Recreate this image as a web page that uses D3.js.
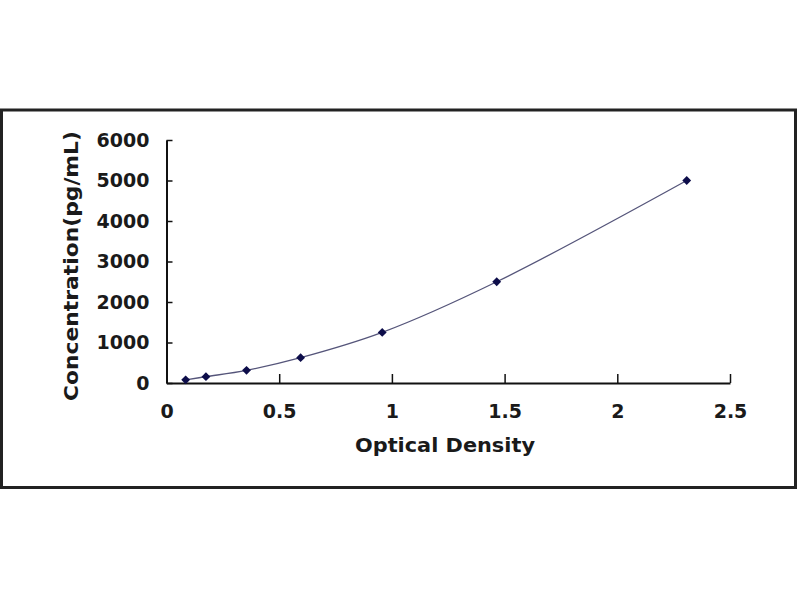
<!DOCTYPE html>
<html>
<head>
<meta charset="utf-8">
<script src="https://cdn.jsdelivr.net/npm/d3@7"></script>
<style>
  body { margin: 0; background: #fff; }
  text { font-family: "DejaVu Sans", Arial, sans-serif; font-weight: bold; fill: #1a1a1a; }
</style>
</head>
<body>
<div id="chart"></div>
<script>
// standard curve readings
var opticalDensity = [0.085, 0.175, 0.355, 0.595, 0.957, 1.465, 2.308];
var concentration = [78, 156, 312, 625, 1250, 2500, 5000];
var xTicks = [0, 0.5, 1, 1.5, 2, 2.5];
var yTicks = [0, 1000, 2000, 3000, 4000, 5000, 6000];

var points = opticalDensity.map(function(d, i) { return { od: d, conc: concentration[i] }; });

var svg = d3.select("#chart").append("svg")
  .attr("width", 800)
  .attr("height", 600);

// outer frame
svg.append("rect")
  .attr("x", 1.5).attr("y", 110)
  .attr("width", 794).attr("height", 377.5)
  .attr("fill", "none")
  .attr("stroke", "#222")
  .attr("stroke-width", 3);

var x = d3.scaleLinear().domain([0, 2.5]).range([166.5, 730]);
var y = d3.scaleLinear().domain([0, 6000]).range([383, 140]);

// x axis, ticks pointing up into the plot
var xAxis = svg.append("g")
  .attr("transform", "translate(0," + y(0) + ")")
  .call(d3.axisBottom(x).tickValues(xTicks).tickSizeInner(-9).tickSizeOuter(0).tickPadding(22)
    .tickFormat(function(d) { return d; }));
xAxis.select(".domain").attr("stroke", "#111").attr("stroke-width", 2);
xAxis.selectAll(".tick line").attr("stroke", "#111").attr("stroke-width", 1.5);
xAxis.selectAll("text").attr("font-size", 19).attr("fill", "#1a1a1a");

// y axis, ticks pointing right
var yAxis = svg.append("g")
  .attr("transform", "translate(" + x(0) + ",0)")
  .call(d3.axisLeft(y).tickValues(yTicks).tickSizeInner(-6).tickSizeOuter(0).tickPadding(17)
    .tickFormat(function(d) { return d; }));
yAxis.select(".domain").attr("stroke", "#111").attr("stroke-width", 2);
yAxis.selectAll(".tick line").attr("stroke", "#111").attr("stroke-width", 1.5);
yAxis.selectAll("text").attr("font-size", 19).attr("fill", "#1a1a1a");

// axis titles
svg.append("text")
  .attr("x", 445).attr("y", 452)
  .attr("text-anchor", "middle")
  .attr("font-size", 19)
  .attr("textLength", 180)
  .attr("lengthAdjust", "spacingAndGlyphs")
  .text("Optical Density");

svg.append("text")
  .attr("transform", "translate(78,266) rotate(-90)")
  .attr("text-anchor", "middle")
  .attr("font-size", 20)
  .attr("textLength", 270)
  .attr("lengthAdjust", "spacingAndGlyphs")
  .text("Concentration(pg/mL)");

// smoothed curve
var line = d3.line()
  .x(function(d) { return x(d.od); })
  .y(function(d) { return y(d.conc); })
  .curve(d3.curveCatmullRom);

svg.append("path")
  .datum(points)
  .attr("d", line)
  .attr("fill", "none")
  .attr("stroke", "#55557a")
  .attr("stroke-width", 1.3);

// diamond markers
svg.selectAll(".pt")
  .data(points)
  .enter()
  .append("path")
  .attr("class", "pt")
  .attr("d", d3.symbol().type(d3.symbolDiamond2).size(50))
  .attr("transform", function(d) { return "translate(" + x(d.od) + "," + y(d.conc) + ")"; })
  .attr("fill", "#0d0d4a");
</script>
</body>
</html>
